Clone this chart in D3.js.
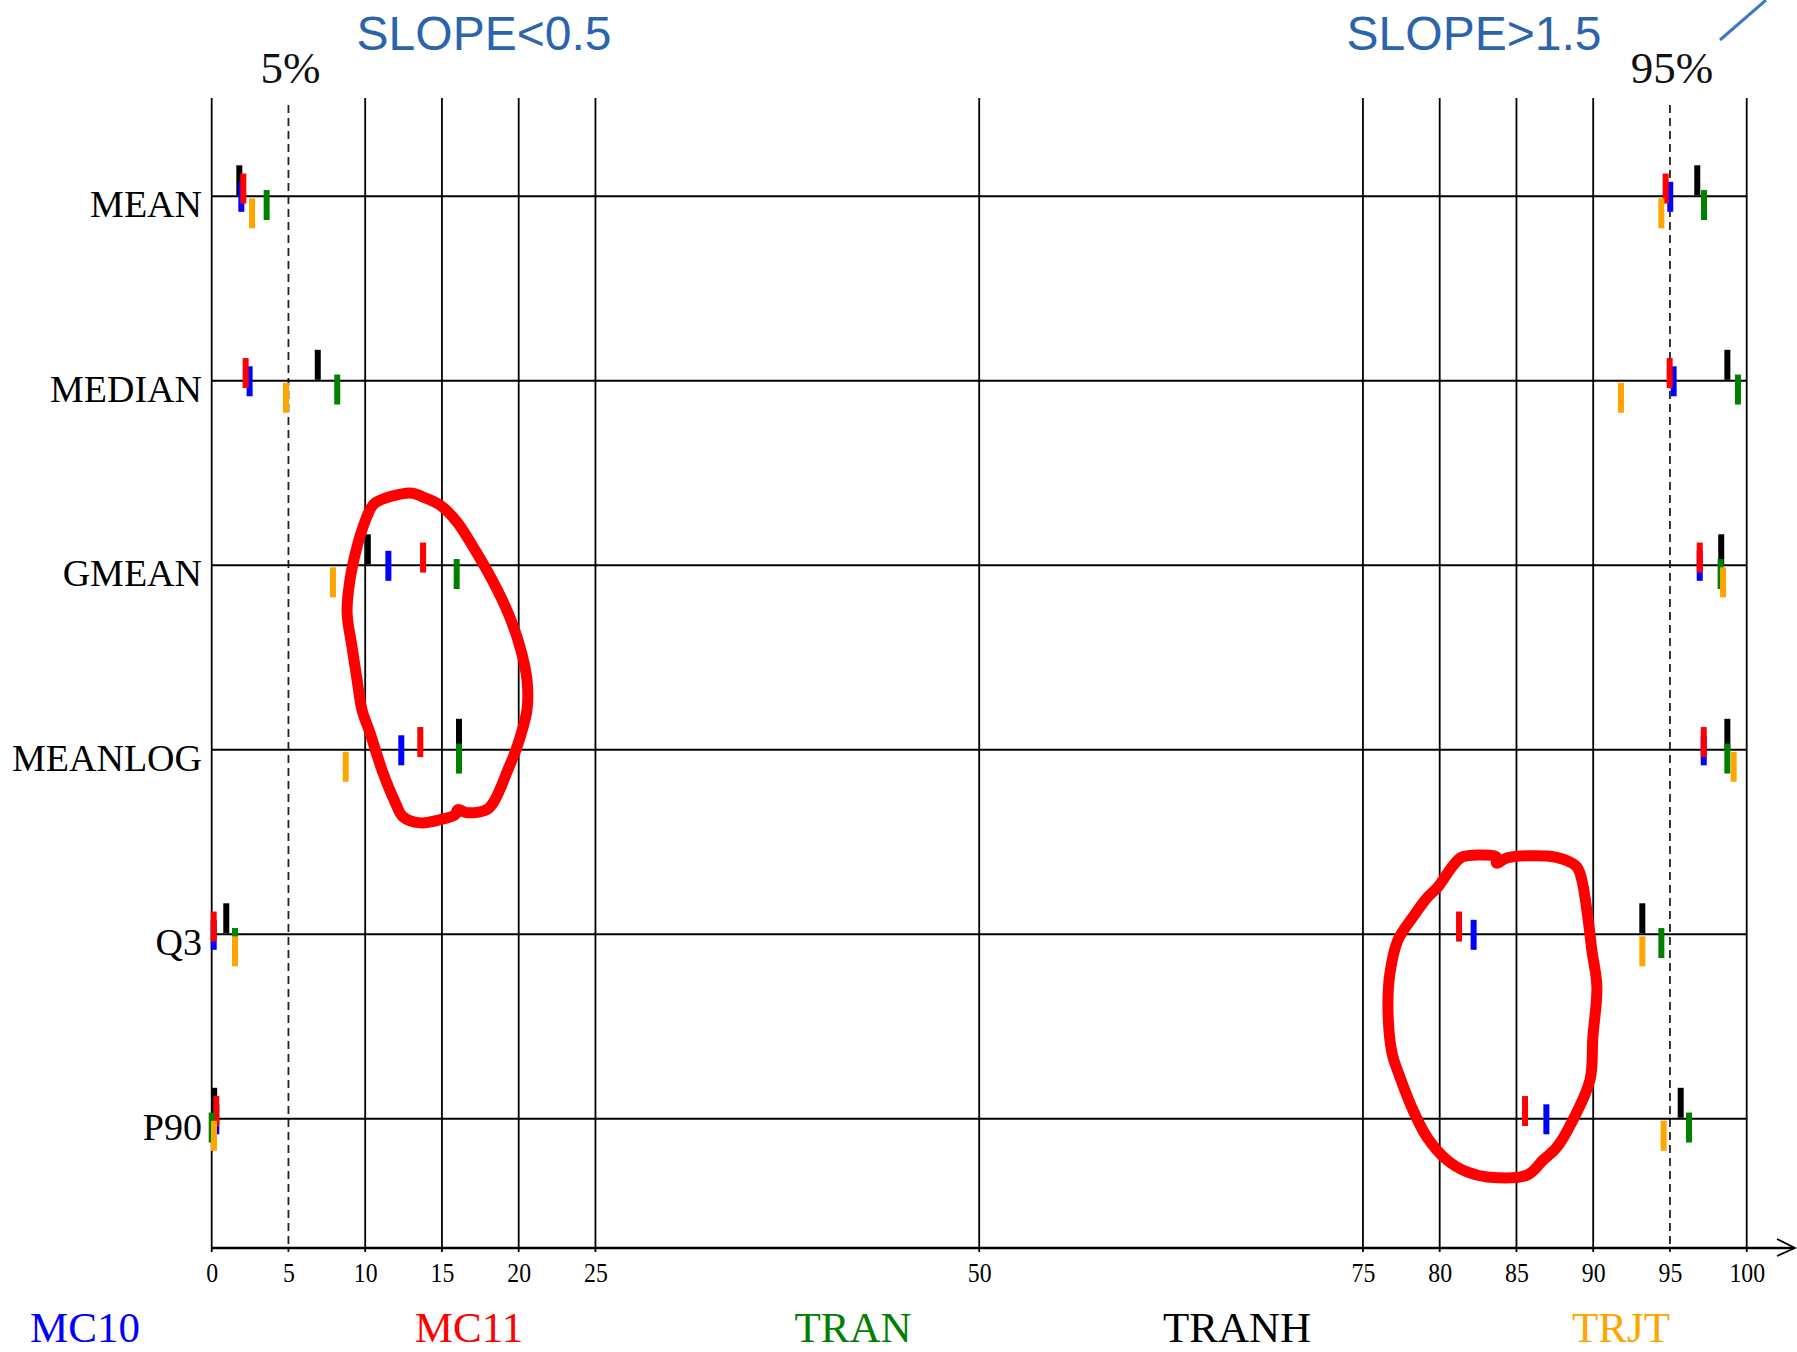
<!DOCTYPE html>
<html>
<head>
<meta charset="utf-8">
<script src="https://cdn.jsdelivr.net/npm/d3@7"></script>
<style>
  html, body { margin: 0; padding: 0; background: #fff; }
  svg { display: block; }
</style>
</head>
<body>
<svg id="chart" width="1797" height="1352"></svg>
<script>
// Statistics compared, one row each
const categories = ["MEAN", "MEDIAN", "GMEAN", "MEANLOG", "Q3", "P90"];

// Methods, legend order
const seriesNames = ["MC10", "MC11", "TRAN", "TRANH", "TRJT"];
const seriesColors = ["#0000ff", "#ff0000", "#008000", "#000000", "#ffa500"];
// Vertical stacking of the markers, top to bottom
const stackOrder = ["TRANH", "MC11", "MC10", "TRAN", "TRJT"];
// Paint order (later ones sit on top)
const paintOrder = ["TRANH", "MC10", "MC11", "TRAN", "TRJT"];

// Percentile of the lower cut-off (slope < 0.5), per statistic
const mc10Low  = [1.93, 2.47, 11.51, 12.35, 0.13, 0.30];
const mc11Low  = [2.06, 2.21, 13.77, 13.59, 0.13, 0.30];
const tranLow  = [3.58, 8.18, 15.96, 16.11, 1.52, 0.00];
const tranhLow = [1.80, 6.91, 10.17, 16.11, 0.95, 0.16];
const trjtLow  = [2.63, 4.84, 7.90, 8.73, 1.52, 0.15];

// Percentile of the upper cut-off (slope > 1.5), per statistic
const mc10High  = [95.02, 95.24, 96.94, 97.20, 82.21, 86.95];
const mc11High  = [94.72, 94.98, 96.94, 97.20, 81.26, 85.56];
const tranHigh  = [97.22, 99.43, 98.30, 98.74, 94.44, 96.24];
const tranhHigh = [96.78, 98.74, 98.34, 98.74, 93.20, 95.70];
const trjtHigh  = [94.44, 91.81, 98.46, 99.15, 93.20, 94.59];

// Axis
const tickValues = [0, 5, 10, 15, 20, 25, 50, 75, 80, 85, 90, 95, 100];
const referenceLines = [5, 95];
const referenceLabels = ["5%", "95%"];
const titles = ["SLOPE<0.5", "SLOPE>1.5"];

// Hand-drawn highlight loops: [percentile, row index]
const loopLow = [
  [10.64, 1.662], [12.92, 1.608], [13.77, 1.630], [14.87, 1.673], [15.98, 1.765],
  [17.02, 1.899], [18.26, 2.078], [19.30, 2.257], [20.08, 2.441], [20.54, 2.620],
  [20.54, 2.783], [19.89, 2.984], [19.30, 3.108], [18.46, 3.270], [17.93, 3.324],
  [16.63, 3.341], [16.04, 3.324], [15.85, 3.352], [14.87, 3.379], [13.57, 3.396],
  [12.46, 3.363], [11.94, 3.282], [11.16, 3.125], [10.31, 2.908], [9.79, 2.784],
  [9.47, 2.621], [9.14, 2.442], [8.82, 2.257], [9.01, 2.078], [9.47, 1.899],
  [9.86, 1.791], [10.31, 1.699]
];
const loopHigh = [
  [81.45, 3.581], [82.82, 3.570], [83.70, 3.581], [83.70, 3.614], [84.40, 3.586],
  [86.98, 3.576], [88.16, 3.597], [88.94, 3.635], [89.26, 3.706], [89.65, 3.907],
  [89.91, 4.085], [90.24, 4.285], [89.98, 4.556], [89.79, 4.790], [88.68, 5.006],
  [87.64, 5.153], [86.73, 5.224], [85.69, 5.305], [83.08, 5.315], [81.78, 5.288],
  [80.48, 5.224], [79.17, 5.099], [78.26, 4.953], [77.41, 4.774], [76.89, 4.643],
  [76.63, 4.410], [76.76, 4.210], [77.28, 4.031], [78.26, 3.906], [79.17, 3.803],
  [79.89, 3.743], [80.80, 3.635]
];

// ---- table of markers ----
const lowBySeries = { MC10: mc10Low, MC11: mc11Low, TRAN: tranLow, TRANH: tranhLow, TRJT: trjtLow };
const highBySeries = { MC10: mc10High, MC11: mc11High, TRAN: tranHigh, TRANH: tranhHigh, TRJT: trjtHigh };
const markers = [];
paintOrder.forEach(s => {
  categories.forEach((c, i) => {
    markers.push({ series: s, category: c, value: lowBySeries[s][i] });
    markers.push({ series: s, category: c, value: highBySeries[s][i] });
  });
});

// ---- layout ----
const svg = d3.select("#chart");
const serif = "'Liberation Serif', 'Times New Roman', serif";
const sans = "'Liberation Sans', Arial, sans-serif";

const x = d3.scaleLinear().domain([0, 100]).range([211.7, 1746.7]);
const y = d3.scalePoint().domain(categories).range([196.3, 1118.8]);
const yRow = d3.scaleLinear().domain([0, categories.length - 1]).range([196.3, 1118.8]);
const color = d3.scaleOrdinal().domain(seriesNames).range(seriesColors);
const offset = d3.scalePoint().domain(stackOrder).range([-16, 17]);

const gridTop = 98, dashTop = 105, axisY = 1248;
const barW = 6, barH = 30;

// vertical grid lines
svg.append("g")
  .selectAll("line")
  .data(tickValues.filter(v => !referenceLines.includes(v)))
  .join("line")
  .attr("x1", d => x(d)).attr("x2", d => x(d))
  .attr("y1", gridTop).attr("y2", axisY + 4)
  .attr("stroke", "#000").attr("stroke-width", 1.8);

// dashed reference lines at 5% and 95%
svg.append("g")
  .selectAll("line")
  .data(referenceLines)
  .join("line")
  .attr("x1", d => x(d)).attr("x2", d => x(d))
  .attr("y1", dashTop).attr("y2", axisY + 4)
  .attr("stroke", "#222").attr("stroke-width", 1.8)
  .attr("stroke-dasharray", "8,5");

// reference labels
svg.append("g")
  .selectAll("text")
  .data(referenceLines)
  .join("text")
  .attr("x", d => x(d) + 2).attr("y", 83)
  .attr("text-anchor", "middle")
  .attr("font-family", serif).attr("font-size", 45)
  .attr("fill", "#111")
  .text((d, i) => referenceLabels[i]);

// row lines
svg.append("g")
  .selectAll("line")
  .data(categories)
  .join("line")
  .attr("x1", x(0)).attr("x2", x(100))
  .attr("y1", d => y(d)).attr("y2", d => y(d))
  .attr("stroke", "#000").attr("stroke-width", 2);

// row labels
svg.append("g")
  .selectAll("text")
  .data(categories)
  .join("text")
  .attr("x", 202).attr("y", d => y(d) + 21)
  .attr("text-anchor", "end")
  .attr("font-family", serif).attr("font-size", 38)
  .attr("fill", "#000")
  .text(d => d);

// x axis with tick labels
const axis = d3.axisBottom(x).tickValues(tickValues).tickSize(0).tickPadding(15)
  .tickFormat(d3.format("d"));
const gAxis = svg.append("g").attr("transform", `translate(0,${axisY})`).call(axis);
gAxis.select(".domain").remove();
gAxis.selectAll("text")
  .attr("font-family", serif).attr("font-size", 27).attr("fill", "#000")
  .attr("transform", "scale(0.88,1)");

// axis line with open arrowhead
svg.append("line")
  .attr("x1", x(0)).attr("x2", 1794)
  .attr("y1", axisY).attr("y2", axisY)
  .attr("stroke", "#000").attr("stroke-width", 2.4);
svg.append("path")
  .attr("d", `M1777,${axisY - 9} L1795,${axisY} L1777,${axisY + 8}`)
  .attr("fill", "none").attr("stroke", "#000").attr("stroke-width", 1.8);

// markers
svg.append("g")
  .selectAll("rect")
  .data(markers)
  .join("rect")
  .attr("x", d => x(d.value) - barW / 2)
  .attr("y", d => y(d.category) + offset(d.series) - barH / 2)
  .attr("width", barW).attr("height", barH)
  .attr("fill", d => color(d.series));

// highlight loops
const loopLine = d3.line()
  .x(d => x(d[0])).y(d => yRow(d[1]))
  .curve(d3.curveCatmullRomClosed.alpha(0.5));
svg.append("g")
  .selectAll("path")
  .data([loopLow, loopHigh])
  .join("path")
  .attr("d", loopLine)
  .attr("fill", "none").attr("stroke", "#ff0000")
  .attr("stroke-width", 11).attr("stroke-linejoin", "round");

// titles
svg.append("g")
  .selectAll("text")
  .data(titles)
  .join("text")
  .attr("x", (d, i) => [484, 1474][i]).attr("y", 50)
  .attr("text-anchor", "middle")
  .attr("font-family", sans).attr("font-size", 48)
  .attr("fill", "#2b64ad")
  .text(d => d);

// corner stroke
svg.append("line")
  .attr("x1", 1720).attr("y1", 40).attr("x2", 1766).attr("y2", 0)
  .attr("stroke", "#3f78c2").attr("stroke-width", 3);

// legend
const legendX = d3.scalePoint().domain(seriesNames).range([85, 1621]);
svg.append("g")
  .selectAll("text")
  .data(seriesNames)
  .join("text")
  .attr("x", d => legendX(d)).attr("y", 1342)
  .attr("text-anchor", "middle")
  .attr("font-family", serif).attr("font-size", 43)
  .attr("fill", d => color(d))
  .text(d => d);
</script>
</body>
</html>
